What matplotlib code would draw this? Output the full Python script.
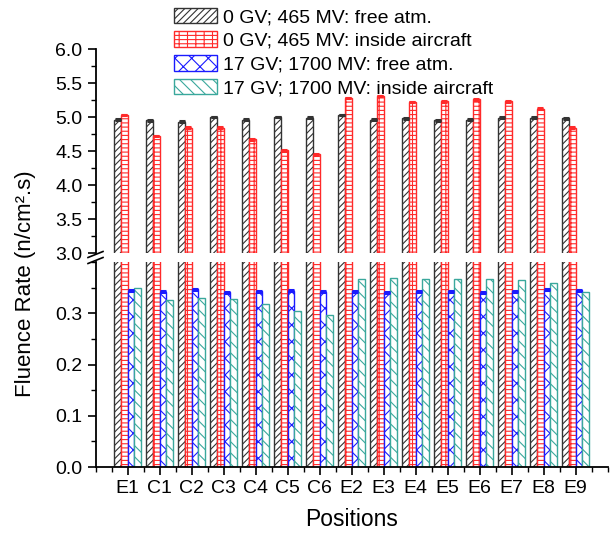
import numpy as np
import matplotlib.pyplot as plt
from matplotlib.lines import Line2D
from matplotlib.ticker import MultipleLocator

plt.rcParams["font.family"] = ["Liberation Sans", "DejaVu Sans"]
plt.rcParams["hatch.linewidth"] = 0.8

positions = ["E1", "C1", "C2", "C3", "C4", "C5", "C6",
             "E2", "E3", "E4", "E5", "E6", "E7", "E8", "E9"]

# fluence rates, n/cm^2.s
free_465 = [4.96, 4.95, 4.93, 5.00, 4.96, 5.00, 4.99,
            5.03, 4.96, 4.98, 4.95, 4.96, 4.99, 4.99, 4.98]
inside_465 = [5.03, 4.72, 4.84, 4.84, 4.67, 4.51, 4.45,
              5.28, 5.31, 5.22, 5.23, 5.26, 5.23, 5.12, 4.84]
free_1700 = [0.344, 0.342, 0.347, 0.341, 0.343, 0.344, 0.342,
             0.343, 0.341, 0.343, 0.343, 0.340, 0.343, 0.346, 0.345]
inside_1700 = [0.349, 0.325, 0.330, 0.327, 0.318, 0.305, 0.296,
               0.367, 0.369, 0.367, 0.367, 0.366, 0.365, 0.360, 0.341]

err_465 = [0.006] * 15
err_1700 = [0.0008] * 15

labels = ["0 GV; 465 MV: free atm.",
          "0 GV; 465 MV: inside aircraft",
          "17 GV; 1700 MV: free atm.",
          "17 GV; 1700 MV: inside aircraft"]
colors = ["#333333", "#ff2a2a", "#1a1aff", "#3aa89c"]
hatches = ["/////", "----||", "xx", "\\\\\\"]

series = [free_465, inside_465, free_1700, inside_1700]
errs = [err_465, err_465, err_1700, None]

fig = plt.figure(figsize=(6.13, 5.33), dpi=100)
W, H = 613, 533
x0, x1 = 95.7, 607.7
ax_top = fig.add_axes([x0 / W, 1 - 253 / H, (x1 - x0) / W, (253 - 49) / H])
ax_bot = fig.add_axes([x0 / W, 1 - 467 / H, (x1 - x0) / W, (467 - 262) / H])

x = np.arange(1, len(positions) + 1)
width = 0.21
offsets = (np.arange(4) - 1.5) * width

handles = []
for ax in (ax_top, ax_bot):
    for vals, err, col, hatch, lab, off in zip(series, errs, colors, hatches, labels, offsets):
        bars = ax.bar(x + off, vals, width, facecolor="white", edgecolor=col,
                      hatch=hatch, linewidth=1.0, label=lab, zorder=2)
        if err is not None:
            ax.errorbar(x + off, vals, yerr=err, fmt="none", ecolor=col,
                        elinewidth=1, capsize=2.5, capthick=2.2, zorder=3)
        if ax is ax_top:
            handles.append(bars)

for ax in (ax_top, ax_bot):
    ax.set_xlim(0, 16)
    for s in ("top", "right"):
        ax.spines[s].set_visible(False)
    for s in ("left", "bottom"):
        ax.spines[s].set_linewidth(1.3)
    ax.tick_params(axis="both", which="major", direction="out", length=6,
                   width=1.2, labelsize=14)
    ax.tick_params(axis="both", which="minor", direction="out", length=3.5,
                   width=1.0)

ax_top.set_ylim(3.0, 6.0)
ax_top.yaxis.set_major_locator(MultipleLocator(0.5))
ax_top.yaxis.set_minor_locator(MultipleLocator(0.25))
ax_top.spines["bottom"].set_visible(False)
ax_top.tick_params(axis="x", which="both", bottom=False, labelbottom=False)

ax_bot.set_ylim(0, 0.40)
ax_bot.set_yticks([0.0, 0.1, 0.2, 0.3])
ax_bot.yaxis.set_minor_locator(MultipleLocator(0.05))
ax_bot.set_xticks(x)
ax_bot.set_xticks(np.arange(0, 16.5, 0.5), minor=True)
ax_bot.set_xticklabels(positions)
ax_bot.yaxis.set_major_formatter(plt.FormatStrFormatter("%.1f"))
ax_top.yaxis.set_major_formatter(plt.FormatStrFormatter("%.1f"))
ax_bot.set_xlabel("Positions", fontsize=16.5, labelpad=8)

fig.text(0.041, 1 - 284 / H, "Fluence Rate (n/cm\u00b2.s)", rotation=90,
         ha="center", va="center", fontsize=16)

# axis break marks on the left spine
for yb in (257.5, 263.5):
    fig.add_artist(Line2D([88 / W, 103 / W], [1 - yb / H, 1 - (yb - 6) / H],
                          color="black", linewidth=1.2))

fig.legend(handles=handles, labels=labels, loc="upper left",
           bbox_to_anchor=(164 / W, 1 + 2 / H), frameon=False, fontsize=14,
           handlelength=2.2, handleheight=0.85, handletextpad=0.35,
           labelspacing=0.27, borderpad=0.0)

fig.savefig("out.png", dpi=100)
